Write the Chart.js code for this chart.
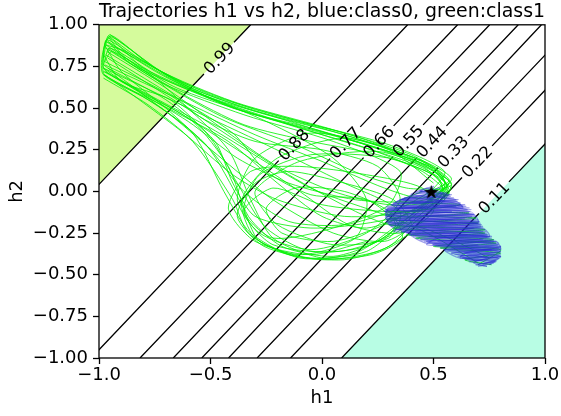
<!DOCTYPE html>
<html>
<head>
<meta charset="utf-8">
<script src="https://cdn.jsdelivr.net/npm/chart.js@4.4.1/dist/chart.umd.min.js"></script>
<style>
html,body{margin:0;padding:0;background:#fff;}
canvas{display:block;}
</style>
</head>
<body>
<canvas id="c" width="561" height="416"></canvas>
<script>
// ---------- data ----------
const titleText = 'Trajectories h1 vs h2, blue:class0, green:class1';
const xTicks = [-1, -0.5, 0, 0.5, 1];
const xTickLabels = ['\u22121.0', '\u22120.5', '0.0', '0.5', '1.0'];
const yTicks = [-1, -0.75, -0.5, -0.25, 0, 0.25, 0.5, 0.75, 1];
const yTickLabels = ['\u22121.00', '\u22120.75', '\u22120.50', '\u22120.25', '0.00', '0.25', '0.50', '0.75', '1.00'];

// contour lines: h1 where each level crosses h2=-1 and h2=1
const contourLevels   = [0.99, 0.88, 0.77, 0.66, 0.55, 0.44, 0.33, 0.22, 0.11];
const contourBottomH1 = [-1.74, -1.035, -0.816, -0.667, -0.539, -0.419, -0.291, -0.141, 0.088];
const contourTopH1    = [-0.32, 0.384, 0.608, 0.752, 0.880, 0.984, 1.129, 1.279, 1.508];
const contourLabelH2  = [0.80, 0.28, 0.292, 0.298, 0.304, 0.298, 0.238, 0.178, -0.038];

const startPoint = [0.49, 0.0];

const greenTrajectories = [
  [[0.49,0.0],[0.57,0.07],[0.40,0.22],[0.05,0.37],[-0.40,0.54],[-0.75,0.74],[-0.95,0.94],[-0.98,0.84],[-0.975,0.73],[-0.82,0.60],[-0.58,0.42],[-0.42,0.15],[-0.33,-0.15],[-0.18,-0.33],[0.05,-0.39],[0.25,-0.30],[0.42,-0.12],[0.55,0.02]],
  [[0.49,0.0],[0.55,0.12],[0.30,0.28],[-0.10,0.42],[-0.50,0.58],[-0.82,0.79],[-0.965,0.91],[-0.98,0.80],[-0.975,0.70],[-0.72,0.52],[-0.42,0.30],[-0.20,0.05],[0.00,-0.15],[0.20,-0.22],[0.40,-0.12],[0.54,0.02],[0.45,0.15],[0.10,0.32],[-0.35,0.48],[-0.72,0.68],[-0.95,0.86],[-0.98,0.76]],
  [[0.49,0.0],[0.58,0.04],[0.48,0.16],[0.15,0.33],[-0.32,0.50],[-0.70,0.70],[-0.95,0.93],[-0.985,0.82],[-0.98,0.70],[-0.78,0.55],[-0.58,0.35],[-0.44,0.0],[-0.32,-0.25],[-0.10,-0.40],[0.15,-0.37],[0.32,-0.22],[0.50,-0.04],[0.57,0.06],[0.38,0.20],[-0.05,0.38],[-0.55,0.60],[-0.88,0.84],[-0.97,0.88]],
  [[-0.975,0.76],[-0.62,0.54],[-0.30,0.34],[0.00,0.18],[0.28,0.02],[0.45,-0.04],[0.55,0.05],[0.50,0.14],[0.20,0.28],[-0.25,0.44],[-0.65,0.62],[-0.94,0.84],[-0.975,0.78]],
  [[-0.98,0.82],[-0.90,0.66],[-0.68,0.55],[-0.50,0.32],[-0.38,0.05],[-0.25,-0.22],[-0.05,-0.36],[0.20,-0.33],[0.38,-0.18],[0.52,-0.02],[0.58,0.08],[0.44,0.19],[0.05,0.36],[-0.45,0.54],[-0.80,0.74],[-0.955,0.92],[-0.98,0.80]],
  [[-0.98,0.70],[-0.72,0.50],[-0.47,0.22],[-0.22,-0.05],[0.05,-0.25],[0.28,-0.30],[0.40,-0.20],[0.32,-0.05],[0.10,0.05],[-0.15,0.12],[-0.30,0.05],[-0.38,-0.15],[-0.26,-0.33],[0.00,-0.41],[0.25,-0.36],[0.40,-0.25]],
  [[-0.955,0.93],[-0.80,0.78],[-0.50,0.56],[-0.15,0.40],[0.20,0.26],[0.45,0.12],[0.56,-0.02],[0.40,-0.12],[0.10,-0.15],[-0.20,-0.05],[-0.40,0.10],[-0.62,0.35],[-0.85,0.58],[-0.975,0.70]],
  [[-0.97,0.86],[-0.70,0.64],[-0.35,0.46],[0.05,0.30],[0.35,0.12],[0.30,-0.08],[0.05,-0.22],[-0.22,-0.28],[-0.35,-0.12],[-0.28,0.10],[-0.05,0.22],[0.30,0.20],[0.52,0.08],[0.55,-0.05]],
  [[-0.98,0.74],[-0.60,0.50],[-0.25,0.28],[0.10,0.05],[0.35,-0.12],[0.30,-0.28],[0.05,-0.32],[-0.20,-0.20],[-0.30,0.00],[-0.10,0.18],[0.25,0.24],[0.50,0.12],[0.57,0.00],[0.45,-0.08]],
  [[0.49,0.0],[0.35,-0.10],[0.10,-0.20],[-0.15,-0.18],[-0.35,0.00],[-0.50,0.25],[-0.70,0.50],[-0.90,0.72],[-0.975,0.88]],
  [[-0.97,0.88],[-0.75,0.68],[-0.55,0.45],[-0.30,0.30],[0.00,0.25],[0.25,0.15],[0.35,-0.05],[0.20,-0.25],[-0.05,-0.35],[-0.28,-0.25],[-0.38,-0.05],[-0.30,0.20],[-0.05,0.35],[0.30,0.25],[0.50,0.05]],
  [[-0.96,0.80],[-0.55,0.45],[-0.15,0.10],[0.15,-0.12],[0.30,-0.20],[0.45,-0.22],[0.60,-0.30],[0.75,-0.40]],
  [[-0.975,0.72],[-0.50,0.38],[-0.05,0.02],[0.30,-0.15],[0.50,-0.27],[0.70,-0.43]],
  [[-0.96,0.90],[-0.72,0.70],[-0.40,0.50],[-0.05,0.38],[0.30,0.24],[0.52,0.12],[0.56,0.00],[0.42,-0.06],[0.15,-0.05],[-0.15,0.05],[-0.38,0.20],[-0.60,0.42],[-0.85,0.62],[-0.98,0.74]],
  [[-0.975,0.78],[-0.65,0.55],[-0.42,0.25],[-0.32,-0.05],[-0.22,-0.28],[0.00,-0.40],[0.22,-0.38],[0.36,-0.28],[0.30,-0.12],[0.10,0.00],[-0.12,0.02],[-0.25,-0.10],[-0.18,-0.25],[0.05,-0.30],[0.28,-0.20],[0.48,-0.05],[0.57,0.05]],
  [[-0.95,0.94],[-0.65,0.66],[-0.30,0.48],[0.10,0.34],[0.40,0.20],[0.55,0.06],[0.50,-0.08],[0.25,-0.18],[-0.05,-0.22],[-0.30,-0.15],[-0.40,0.05],[-0.48,0.30],[-0.70,0.55],[-0.96,0.74]],
  [[-0.98,0.68],[-0.78,0.52],[-0.58,0.30],[-0.40,-0.05],[-0.33,-0.25],[-0.15,-0.38],[0.10,-0.41],[0.30,-0.33],[0.42,-0.18],[0.55,-0.05],[0.58,0.05],[0.50,0.12]],
  [[0.49,0.0],[0.57,-0.02],[0.50,0.10],[0.25,0.22],[-0.05,0.30],[-0.35,0.40],[-0.62,0.58],[-0.88,0.80],[-0.96,0.93]],
  [[0.30,-0.12],[0.66,-0.13],[0.29,-0.17],[0.70,-0.19],[0.32,-0.22],[0.73,-0.25],[0.42,-0.28],[0.78,-0.31],[0.53,-0.34],[0.80,-0.37],[0.64,-0.41],[0.76,-0.44]],
  [[0.45,0.0],[0.35,-0.06],[0.62,-0.08],[0.29,-0.14],[0.69,-0.16],[0.30,-0.20],[0.73,-0.23],[0.38,-0.26],[0.77,-0.29],[0.50,-0.33],[0.80,-0.35],[0.70,-0.44]],
  [[-0.965,0.84],[-0.70,0.62],[-0.45,0.38],[-0.20,0.15],[0.05,0.00],[0.30,-0.08],[0.50,-0.06],[0.56,0.04],[0.42,0.16],[0.00,0.34],[-0.50,0.56],[-0.85,0.76],[-0.96,0.90]],
  [[-0.98,0.76],[-0.80,0.58],[-0.52,0.28],[-0.36,-0.08],[-0.28,-0.30],[-0.05,-0.40],[0.20,-0.36],[0.33,-0.20],[0.20,-0.05],[-0.05,-0.02],[-0.25,0.12],[-0.40,0.35],[-0.70,0.60],[-0.97,0.82]],
  [[-0.97,0.90],[-0.60,0.62],[-0.25,0.42],[0.05,0.20],[0.20,-0.05],[0.15,-0.28],[-0.10,-0.38],[-0.30,-0.28],[-0.36,-0.05],[-0.20,0.20],[0.10,0.32],[0.45,0.18],[0.58,0.02]],
  [[-0.98,0.72],[-0.65,0.48],[-0.38,0.25],[-0.10,0.00],[0.12,-0.20],[0.35,-0.25],[0.50,-0.12],[0.45,0.02],[0.20,0.10],[-0.10,0.15],[-0.32,0.12],[-0.42,-0.10],[-0.30,-0.30],[-0.05,-0.38],[0.20,-0.30]],
  [[-0.96,0.86],[-0.78,0.70],[-0.45,0.45],[-0.12,0.28],[0.18,0.10],[0.38,0.02],[0.55,0.00],[0.50,-0.10],[0.28,-0.12],[0.00,-0.08],[-0.22,0.02],[-0.35,-0.12],[-0.22,-0.32],[0.08,-0.36],[0.33,-0.25],[0.52,-0.05]]
];

const blueTrajectories = [
  [[0.49,0.01],[0.44,0.0],[0.56,-0.01],[0.39,-0.03],[0.59,-0.04],[0.34,-0.06],[0.62,-0.07],[0.29,-0.09],[0.66,-0.10],[0.28,-0.12],[0.68,-0.13],[0.285,-0.15],[0.69,-0.16],[0.29,-0.18],[0.71,-0.19],[0.31,-0.21],[0.72,-0.22],[0.36,-0.24],[0.74,-0.25],[0.41,-0.27],[0.76,-0.28],[0.46,-0.30],[0.79,-0.31],[0.51,-0.33],[0.80,-0.34],[0.56,-0.36],[0.80,-0.37],[0.61,-0.39],[0.79,-0.40],[0.66,-0.42],[0.76,-0.44]],
  [[0.49,0.01],[0.53,0.02],[0.42,-0.01],[0.58,-0.02],[0.37,-0.04],[0.61,-0.05],[0.32,-0.07],[0.64,-0.08],[0.285,-0.10],[0.67,-0.11],[0.285,-0.13],[0.685,-0.14],[0.287,-0.16],[0.70,-0.17],[0.29,-0.19],[0.715,-0.20],[0.33,-0.22],[0.73,-0.23],[0.38,-0.25],[0.745,-0.26],[0.43,-0.28],[0.77,-0.29],[0.48,-0.31],[0.79,-0.32],[0.53,-0.34],[0.80,-0.35],[0.58,-0.37],[0.80,-0.38],[0.63,-0.40],[0.78,-0.42],[0.70,-0.45]],
  [[0.49,0.01],[0.46,-0.02],[0.36,-0.05],[0.50,-0.05],[0.62,-0.08],[0.45,-0.09],[0.29,-0.11],[0.48,-0.12],[0.68,-0.14],[0.50,-0.15],[0.29,-0.17],[0.50,-0.18],[0.71,-0.20],[0.55,-0.21],[0.33,-0.23],[0.55,-0.24],[0.74,-0.26],[0.60,-0.27],[0.44,-0.29],[0.62,-0.30],[0.79,-0.32],[0.66,-0.34],[0.55,-0.35],[0.70,-0.37],[0.80,-0.39],[0.72,-0.41],[0.68,-0.43],[0.74,-0.45]],
  [[0.49,0.01],[0.52,-0.03],[0.60,-0.05],[0.45,-0.06],[0.31,-0.08],[0.45,-0.10],[0.66,-0.12],[0.47,-0.13],[0.285,-0.14],[0.46,-0.16],[0.70,-0.18],[0.50,-0.19],[0.30,-0.20],[0.50,-0.22],[0.72,-0.24],[0.55,-0.25],[0.39,-0.26],[0.58,-0.28],[0.77,-0.30],[0.62,-0.31],[0.50,-0.32],[0.66,-0.34],[0.80,-0.36],[0.70,-0.38],[0.62,-0.39],[0.72,-0.42],[0.77,-0.43]],
  [[0.49,0.01],[0.47,-0.04],[0.55,-0.06],[0.40,-0.07],[0.60,-0.09],[0.33,-0.10],[0.58,-0.12],[0.40,-0.14],[0.64,-0.16],[0.35,-0.17],[0.60,-0.19],[0.40,-0.21],[0.68,-0.22],[0.42,-0.24],[0.65,-0.26],[0.48,-0.27],[0.72,-0.29],[0.52,-0.30],[0.70,-0.32],[0.58,-0.34],[0.76,-0.35],[0.64,-0.37],[0.74,-0.40],[0.68,-0.42]],
  [[0.49,0.01],[0.50,0.03],[0.44,0.0],[0.57,-0.02],[0.48,-0.04],[0.35,-0.05],[0.52,-0.07],[0.63,-0.09],[0.40,-0.10],[0.28,-0.12],[0.42,-0.14],[0.67,-0.15],[0.55,-0.17],[0.29,-0.18],[0.38,-0.20],[0.71,-0.21],[0.62,-0.23],[0.36,-0.24],[0.48,-0.26],[0.75,-0.27],[0.68,-0.29],[0.47,-0.30],[0.56,-0.32],[0.80,-0.33],[0.72,-0.35],[0.58,-0.37],[0.66,-0.39],[0.79,-0.40],[0.72,-0.44]],
  [[0.49,0.01],[0.41,-0.02],[0.33,-0.07],[0.60,-0.06],[0.63,-0.10],[0.30,-0.10],[0.29,-0.15],[0.68,-0.14],[0.70,-0.19],[0.30,-0.19],[0.34,-0.23],[0.72,-0.22],[0.75,-0.27],[0.40,-0.26],[0.47,-0.31],[0.78,-0.30],[0.80,-0.35],[0.55,-0.35],[0.62,-0.40],[0.80,-0.39],[0.75,-0.44]],
  [[0.49,0.01],[0.54,-0.01],[0.50,-0.03],[0.37,-0.04],[0.32,-0.08],[0.55,-0.09],[0.65,-0.11],[0.38,-0.12],[0.285,-0.16],[0.52,-0.17],[0.70,-0.19],[0.43,-0.20],[0.32,-0.24],[0.56,-0.25],[0.74,-0.27],[0.52,-0.28],[0.47,-0.32],[0.66,-0.33],[0.80,-0.34],[0.64,-0.37],[0.62,-0.40],[0.78,-0.41],[0.70,-0.44]],
  [[0.49,0.01],[0.47,0.02],[0.40,-0.02],[0.575,-0.03],[0.355,-0.05],[0.605,-0.06],[0.31,-0.08],[0.645,-0.09],[0.284,-0.11],[0.67,-0.12],[0.285,-0.14],[0.69,-0.15],[0.288,-0.17],[0.705,-0.18],[0.30,-0.20],[0.72,-0.21],[0.345,-0.23],[0.735,-0.24],[0.395,-0.26],[0.76,-0.27],[0.445,-0.29],[0.78,-0.30],[0.495,-0.32],[0.80,-0.33],[0.545,-0.35],[0.80,-0.36],[0.595,-0.38],[0.80,-0.39],[0.645,-0.41],[0.775,-0.42],[0.69,-0.44],[0.74,-0.45]]
];

// ---------- styles ----------
const FONT = '"DejaVu Sans", "Liberation Sans", sans-serif';
const fillHigh = '#d5fb9c';
const fillLow = '#b8fde4';
const greenColor = 'rgba(0,240,0,0.9)';
const blueColor = 'rgba(40,40,210,0.45)';
const labelGap = 0.095;

function lineH1(i, h2) {
  return contourBottomH1[i] + (contourTopH1[i] - contourBottomH1[i]) * (h2 + 1) / 2;
}
function toXY(arr) { return arr.map(p => ({x: p[0], y: p[1]})); }

function starImage(size) {
  const c = document.createElement('canvas');
  c.width = c.height = size;
  const g = c.getContext('2d');
  g.fillStyle = '#000';
  g.beginPath();
  for (let k = 0; k < 10; k++) {
    const r = (k % 2) ? size * 0.2 : size * 0.5;
    const a = -Math.PI / 2 + k * Math.PI / 5;
    g.lineTo(size / 2 + r * Math.cos(a), size / 2 + 1 + r * Math.sin(a));
  }
  g.closePath();
  g.fill();
  return c;
}

const datasets = [];
// filled regions
datasets.push({data: [{x: contourBottomH1[0], y: -1}, {x: contourTopH1[0], y: 1}], fill: 'end', backgroundColor: fillHigh, borderWidth: 0, pointRadius: 0, order: 20});
datasets.push({data: [{x: contourBottomH1[8], y: -1}, {x: contourTopH1[8], y: 1}], fill: 'start', backgroundColor: fillLow, borderWidth: 0, pointRadius: 0, order: 20});
// contour lines with gaps for labels
contourLevels.forEach((lv, i) => {
  const g = contourLabelH2[i];
  datasets.push({
    data: [
      {x: contourBottomH1[i], y: -1},
      {x: lineH1(i, g - labelGap), y: g - labelGap},
      {x: lineH1(i, g), y: null},
      {x: lineH1(i, g + labelGap), y: g + labelGap},
      {x: contourTopH1[i], y: 1}
    ],
    borderColor: '#000', borderWidth: 1.3, fill: false, pointRadius: 0, tension: 0, order: 10
  });
});
greenTrajectories.forEach(t => datasets.push({data: toXY(t), borderColor: greenColor, borderWidth: 0.9, fill: false, pointRadius: 0, tension: 0.25, order: 6}));
blueTrajectories.forEach(t => datasets.push({data: toXY(t), borderColor: blueColor, borderWidth: 1.2, fill: false, pointRadius: 0, tension: 0.25, order: 4}));
datasets.push({data: [{x: startPoint[0], y: startPoint[1]}], showLine: false, pointStyle: starImage(15), pointRadius: 8, order: 0});

const overlay = {
  id: 'overlay',
  afterDatasetsDraw(chart) {
    const {ctx, chartArea: a, scales: {x, y}} = chart;
    ctx.save();
    ctx.font = '16.5px ' + FONT;
    ctx.fillStyle = '#000';
    ctx.textAlign = 'center';
    ctx.textBaseline = 'middle';
    contourLevels.forEach((lv, i) => {
      const h2 = contourLabelH2[i];
      const px = x.getPixelForValue(lineH1(i, h2));
      const py = y.getPixelForValue(h2);
      const ang = Math.atan2(y.getPixelForValue(1) - y.getPixelForValue(-1),
                             x.getPixelForValue(contourTopH1[i]) - x.getPixelForValue(contourBottomH1[i]));
      ctx.save();
      ctx.translate(px, py);
      ctx.rotate(ang);
      ctx.fillText(lv.toFixed(2), 0, 1);
      ctx.restore();
    });
    ctx.strokeStyle = '#000';
    ctx.lineWidth = 1.3;
    ctx.strokeRect(a.left, a.top, a.right - a.left, a.bottom - a.top);
    ctx.restore();
  }
};

new Chart(document.getElementById('c'), {
  type: 'line',
  data: {datasets},
  plugins: [overlay],
  options: {
    responsive: false,
    animation: false,
    events: [],
    layout: {padding: {left: 0, right: 16, top: 0, bottom: 0}},
    elements: {point: {radius: 0}},
    plugins: {
      legend: {display: false},
      tooltip: {enabled: false},
      filler: {drawTime: 'beforeDatasetsDraw'},
      title: {
        display: true, text: titleText, color: '#000', fullSize: false,
        font: {family: FONT, size: 19, weight: 'normal'},
        padding: {top: 0.5, bottom: 1.5}
      }
    },
    scales: {
      x: {
        type: 'linear', min: -1, max: 1,
        afterBuildTicks: s => { s.ticks = xTicks.map(v => ({value: v})); },
        afterFit: s => { s.height = 58; },
        border: {display: false},
        grid: {drawOnChartArea: false, drawTicks: true, tickLength: 6, tickColor: '#000', tickWidth: 1.3},
        ticks: {autoSkip: false, maxRotation: 0, padding: 1, color: '#000', font: {family: FONT, size: 18},
                callback: v => xTickLabels[xTicks.indexOf(v)]},
        title: {display: true, text: 'h1', color: '#000', font: {family: FONT, size: 18}, padding: {top: 0, bottom: 7}}
      },
      y: {
        type: 'linear', min: -1, max: 1,
        afterBuildTicks: s => { s.ticks = yTicks.map(v => ({value: v})); },
        afterFit: s => { s.width = 99; },
        border: {display: false},
        grid: {drawOnChartArea: false, drawTicks: true, tickLength: 6, tickColor: '#000', tickWidth: 1.3},
        ticks: {autoSkip: false, padding: 5, color: '#000', font: {family: FONT, size: 18},
                callback: v => yTickLabels[yTicks.indexOf(v)]},
        title: {display: true, text: 'h2', color: '#000', font: {family: FONT, size: 18}, padding: {top: 7, bottom: 0}}
      }
    }
  }
});
</script>
</body>
</html>
